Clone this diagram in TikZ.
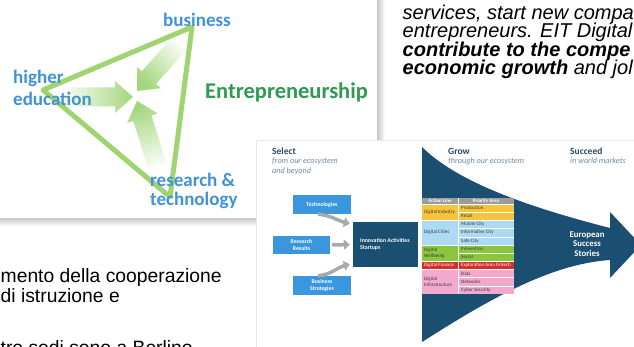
\documentclass[tikz,border=0pt]{standalone}
\usepackage{fontspec}
\setmainfont{Liberation Sans}
\newfontfamily\cf{Carlito}
\usetikzlibrary{arrows.meta,calc}
\definecolor{tblue}{HTML}{3F93D6}
\definecolor{tgreen}{HTML}{2E9A52}
\definecolor{trline}{HTML}{9FD470}
\definecolor{arrg}{HTML}{A3D67C}
\definecolor{eitnavy}{HTML}{1B4F72}
\definecolor{boxblue}{HTML}{3A96DD}
\definecolor{headc}{HTML}{2B4966}
\definecolor{subc}{HTML}{6D8BA6}
\definecolor{garrow}{HTML}{A9A9A9}
\definecolor{tyellow}{HTML}{F6C43A}
\definecolor{tlblue}{HTML}{ABDAF2}
\definecolor{tgreentwo}{HTML}{8CC63F}
\definecolor{tred}{HTML}{D2302A}
\definecolor{tpink}{HTML}{F3A9CC}
\definecolor{tgrey}{HTML}{9B9B9B}
\definecolor{tdark}{HTML}{3A3A3A}
\begin{document}
\begin{tikzpicture}[x=1pt,y=-1pt,
  lbl/.style={font=\cf\bfseries\fontsize{19}{19}\selectfont, text=tblue, inner sep=0, anchor=base west},
  slide/.style={font=\itshape\fontsize{20}{20}\selectfont, text=black, inner sep=0, anchor=base west},
  slidereg/.style={font=\fontsize{19.3}{19.3}\selectfont, text=black, inner sep=0, anchor=base west},
  head/.style={font=\cf\bfseries\fontsize{9.5}{9.5}\selectfont, text=headc, inner sep=0, anchor=base west},
  sub/.style={font=\cf\itshape\fontsize{8.2}{8.2}\selectfont, text=subc, inner sep=0, anchor=base west},
  bluebox/.style={fill=boxblue, text=white, font=\cf\bfseries\fontsize{5.8}{6.6}\selectfont, align=center, inner sep=0, minimum width=58pt, minimum height=19pt},
  garr/.style={draw=garrow, line width=3.5pt, -{Triangle[width=10pt,length=6pt]}},
  tcell/.style={font=\cf\fontsize{5}{5.4}\selectfont, text=tdark, inner sep=0, anchor=west, align=left},
  thead/.style={font=\cf\bfseries\fontsize{5}{5}\selectfont, text=white, inner sep=0},
  sep/.style={draw=white, line width=0.5pt}
]
\useasboundingbox (0,0) rectangle (634,347);
\clip (0,0) rectangle (634,347);
\fill[white] (0,0) rectangle (634,347);

% ---------- left picture: triangle ----------
\shade[left color=gray!45, right color=white] (377,0) rectangle (385,224);
\shade[top color=gray!45, bottom color=white] (0,218) rectangle (383,226);
\fill[white] (0,0) rectangle (377,218);

\shade[bottom color=arrg!10, top color=arrg, shading angle=-90, shift={(133,97)}]
  (0,0) -- (-18,16) -- (-18,9.5) -- (-66,9.5) -- (-66,-9.5) -- (-18,-9.5) -- (-18,-16) -- cycle;
\shade[bottom color=arrg!10, top color=arrg, shading angle=138.3, shift={(137,91)}, rotate=228.3]
  (0,0) -- (-18,16) -- (-18,9.5) -- (-62,9.5) -- (-62,-9.5) -- (-18,-9.5) -- (-18,-16) -- cycle;
\shade[bottom color=arrg!10, top color=arrg, shading angle=17.4, shift={(137,101)}, rotate=107.4]
  (0,0) -- (-18,16) -- (-18,9.5) -- (-67,9.5) -- (-67,-9.5) -- (-18,-9.5) -- (-18,-16) -- cycle;

\coordinate (vtop) at (192,27);
\coordinate (vleft) at (43,90);
\coordinate (vbot) at (170,197);
\draw[trline, line width=5pt, line join=round] (vtop) -- (vleft) -- (vbot) -- cycle;

\node[lbl] (lbus) at (163,26.5) {business};
\node[lbl] (lhigh) at (13,84) {higher};
\node[lbl] (ledu) at (13,106) {education};
\node[lbl] (lres) at (150,187) {research \&};
\node[lbl] (ltech) at (150,205.5) {technology};
\node[lbl, text=tgreen, font=\cf\bfseries\fontsize{22.5}{22.5}\selectfont] (lentr) at (205,98.5) {Entrepreneurship};

% ---------- slide text ----------
\node[slide] (s1) at (402.5,19.3) {services, start new compa};
\node[slide] (s2) at (402.5,37.8) {entrepreneurs. EIT Digital};
\node[slide, font=\bfseries\itshape\fontsize{20}{20}\selectfont] (s3) at (402.5,56.3) {contribute to the compe};
\node[slide] (s4) at (402.5,74.6) {\textbf{economic growth} and jol};

\node[slidereg] (b1) at (0.5,282) {mento della cooperazione};
\node[slidereg] (b2) at (0.5,302) {di istruzione e};
\node[slidereg] (b3) at (0.5,354) {tre sedi sono a Berlino};

% ---------- EIT picture ----------
\fill[white] (257,140) rectangle (634,347);
\draw[gray!18, line width=0.8pt] (256.5,347) -- (256.5,140) -- (634,140);

\node[head] (hsel) at (272,154.3) {Select};
\node[sub] (ssel1) at (272,163.5) {from our ecosystem};
\node[sub] (ssel2) at (272,173.3) {and beyond};

\coordinate (ftl) at (422,147);
\coordinate (fbl) at (422,342);
\coordinate (fst) at (610,228);
\coordinate (fsb) at (610,260);
\coordinate (fht) at (610,212);
\coordinate (fhb) at (610,278);
\coordinate (ftip) at (641,245);
\fill[eitnavy] (ftl) .. controls (460,185) and (540,210) .. (fst) -- (fht) -- (ftip) -- (fhb) -- (fsb) .. controls (550,264) and (488,300) .. (fbl) -- cycle;

\node[head] (hgrow) at (448,154.3) {Grow};
\node[sub] (sgrow) at (448,164) {through our ecosystem};
\node[head] (hsucc) at (570,154.3) {Succeed};
\node[sub] (ssucc) at (570,164) {in world markets};

\node[font=\cf\bfseries\fontsize{8.8}{9.5}\selectfont, text=white, align=center, inner sep=0] (eus) at (587,244) {European\\Success\\Stories};

\node[bluebox] (tech) at (322,204.5) {Technologies};
\node[bluebox, minimum width=57pt, minimum height=18pt] (res) at (301.5,245) {Research\\Results};
\node[bluebox] (bus) at (322,285.5) {Business\\Strategies};
\node[fill=eitnavy, minimum width=65pt, minimum height=45pt, inner sep=0] (innov) at (385.5,244.5) {};
\node[font=\cf\bfseries\fontsize{5.8}{7}\selectfont, text=white, align=left, inner sep=0, anchor=west] (innovtxt) at (360,244) {Innovation Activities\\Startups};

\draw[garr] ([xshift=-4pt]tech.south) to[out=-5,in=165] ([xshift=-3pt,yshift=-2pt]innov.north west);
\draw[garr, shorten <=2pt, shorten >=3pt] (res.east) -- (innov.west);
\draw[garr] ([xshift=-4pt]bus.north) to[out=5,in=195] ([xshift=-3pt,yshift=3pt]innov.south west);

% table
\fill[tgrey] (422,198) rectangle (514,204);
\fill[tyellow] (422,204) rectangle (514,220.36);
\fill[tlblue] (422,220.36) rectangle (514,244.9);
\fill[tgreentwo] (422,244.9) rectangle (514,261.26);
\fill[tred] (422,261.26) rectangle (514,269.44);
\fill[tpink] (422,269.44) rectangle (514,294);
\foreach \i in {1,3,4,6,9,10} {
  \draw[sep, line width=0.35pt] (458,{204+\i*8.18}) -- (514,{204+\i*8.18});
}
\foreach \y in {204,220.36,244.9,261.26,269.44} {
  \draw[sep] (422,\y) -- (514,\y);
}
\draw[sep] (458,198) -- (458,294);

\node[thead] (th1) at (440,201.2) {Action Line};
\node[thead] (th2) at (486,201.2) {Priority Area};

\node[tcell] (al1) at (424,212.2) {Digital Industry};
\node[tcell] (al2) at (424,232.6) {Digital Cities};
\node[tcell] (al3) at (424,253.1) {Digital\\Wellbeing};
\node[tcell, text=white] (al4) at (424,265.35) {Digital Finance};
\node[tcell] (al5) at (424,281.7) {Digital\\Infrastructure};

\foreach \t [count=\k from 0] in {Production,Retail,Mobile City,Informative City,Safe City,Prevention,Social} {
  \node[tcell] (pa\k) at (461,{204+(\k+0.5)*8.18}) {\t};
}
\node[tcell, text=white] (pafin) at (461,265.35) {Exploration Area Fintech};
\foreach \t [count=\k from 8] in {Data,Networks,Cyber Security} {
  \node[tcell] (pa\k) at (461,{204+(\k+0.5)*8.18}) {\t};
}
\end{tikzpicture}
\end{document}
